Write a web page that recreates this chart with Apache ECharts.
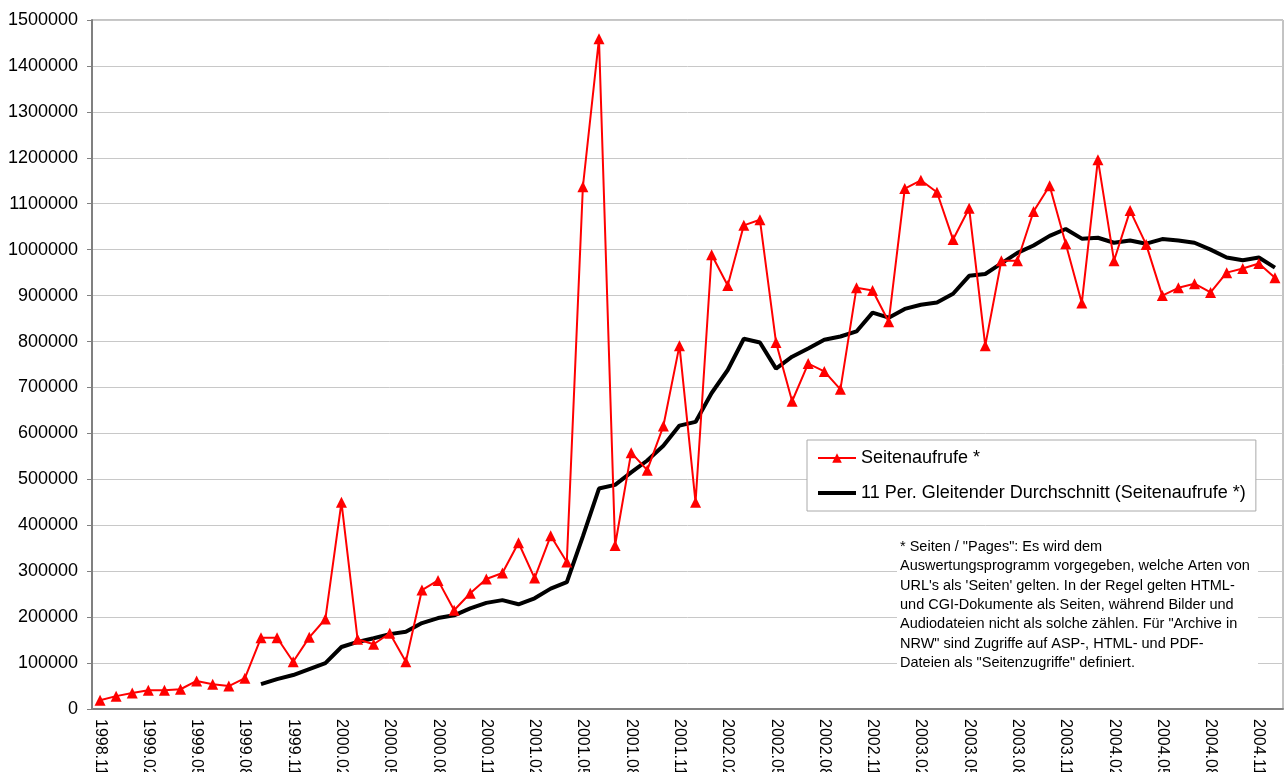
<!DOCTYPE html>
<html>
<head>
<meta charset="utf-8">
<script src="https://cdn.jsdelivr.net/npm/echarts@6/dist/echarts.min.js"></script>
<style>
  html, body { margin: 0; padding: 0; background: #fff; }
  #chart { width: 1284px; height: 772px; }
</style>
</head>
<body>
<div id="chart"></div>
<script>
var months = [
    '1998.11', '1998.12',
    '1999.01', '1999.02', '1999.03', '1999.04', '1999.05', '1999.06', '1999.07', '1999.08', '1999.09', '1999.10', '1999.11', '1999.12',
    '2000.01', '2000.02', '2000.03', '2000.04', '2000.05', '2000.06', '2000.07', '2000.08', '2000.09', '2000.10', '2000.11', '2000.12',
    '2001.01', '2001.02', '2001.03', '2001.04', '2001.05', '2001.06', '2001.07', '2001.08', '2001.09', '2001.10', '2001.11', '2001.12',
    '2002.01', '2002.02', '2002.03', '2002.04', '2002.05', '2002.06', '2002.07', '2002.08', '2002.09', '2002.10', '2002.11', '2002.12',
    '2003.01', '2003.02', '2003.03', '2003.04', '2003.05', '2003.06', '2003.07', '2003.08', '2003.09', '2003.10', '2003.11', '2003.12',
    '2004.01', '2004.02', '2004.03', '2004.04', '2004.05', '2004.06', '2004.07', '2004.08', '2004.09', '2004.10', '2004.11', '2004.12'
];

// Seitenaufrufe pro Monat
var seitenaufrufe = [
    19000, 28000,
    35000, 41000, 41000, 43000, 61000, 54000, 50000, 67000, 155000, 155000, 103000, 156000,
    196000, 450000, 152000, 141000, 165000, 103000, 259000, 280000, 215000, 252000, 283000, 296000,
    362000, 285000, 377000, 320000, 1137000, 1459000, 356000, 558000, 520000, 616000, 791000, 450000,
    989000, 922000, 1053000, 1065000, 798000, 670000, 752000, 735000, 696000, 917000, 911000, 843000,
    1133000, 1151000, 1125000, 1022000, 1090000, 791000, 976000, 976000, 1083000, 1139000, 1013000, 884000,
    1196000, 976000, 1085000, 1011000, 900000, 917000, 926000, 907000, 950000, 959000, 970000, 939000
];

// 11 Per. gleitender Durchschnitt (erst ab dem 11. Monat)
var gleitend = [
    null, null,
    null, null, null, null, null, null, null, null, 54000, 65000, 74000, 87000,
    100000, 135000, 146000, 154000, 163000, 168000, 187000, 198000, 204000, 219000, 231000, 237000,
    228000, 241000, 262000, 276000, 376000, 480000, 488000, 515000, 541000, 573000, 617000, 625000,
    688000, 738000, 806000, 798000, 741000, 767000, 785000, 804000, 811000, 822000, 863000, 852000,
    871000, 880000, 885000, 904000, 943000, 947000, 970000, 993000, 1009000, 1030000, 1045000, 1024000,
    1026000, 1015000, 1020000, 1013000, 1023000, 1020000, 1015000, 1000000, 983000, 977000, 983000, 961000
];

var hinweis = [
    '* Seiten / "Pages": Es wird dem',
    'Auswertungsprogramm vorgegeben, welche Arten von',
    'URL\'s als \'Seiten\' gelten. In der Regel gelten HTML-',
    'und CGI-Dokumente als Seiten, während Bilder und',
    'Audiodateien nicht als solche zählen. Für "Archive in',
    'NRW" sind Zugriffe auf ASP-, HTML- und PDF-',
    'Dateien als "Seitenzugriffe" definiert.'
];

var font = '"Liberation Sans", Arial, Helvetica, sans-serif';
var myChart = echarts.init(document.getElementById('chart'));

var option = {
    backgroundColor: '#fff',
    animation: false,
    textStyle: { fontFamily: font },
    grid: {
        left: 92,
        top: 20,
        right: 1,
        bottom: 63,
        show: true,
        borderColor: '#888',
        borderWidth: 1,
        containLabel: false,
        outerBoundsMode: 'none'
    },
    legend: {
        orient: 'vertical',
        left: 807,
        top: 440,
        z: 20,
        backgroundColor: '#fff',
        borderColor: '#aaa',
        borderWidth: 1,
        padding: [7, 10, 7, 10],
        itemGap: 13,
        itemWidth: 38,
        itemHeight: 12,
        textStyle: { fontSize: 18, color: '#000', fontFamily: font, lineHeight: 22 },
        data: [
            { name: 'Seitenaufrufe *' },
            { name: '11 Per. Gleitender Durchschnitt (Seitenaufrufe *)', icon: 'path://M0,0L38,0L38,4L0,4Z' }
        ]
    },
    xAxis: {
        type: 'category',
        data: months,
        boundaryGap: true,
        axisLine: { lineStyle: { color: '#808080', width: 2 } },
        axisTick: { interval: 0, length: 6, lineStyle: { color: '#808080' } },
        axisLabel: {
            interval: 2,
            rotate: -90,
            margin: 10,
            fontSize: 16,
            color: '#000',
            fontFamily: font
        }
    },
    yAxis: {
        type: 'value',
        min: 0,
        max: 1500000,
        interval: 100000,
        axisLine: { show: true, lineStyle: { color: '#808080', width: 2 } },
        axisTick: { show: true, length: 5, lineStyle: { color: '#808080' } },
        axisLabel: {
            fontSize: 18, color: '#000', margin: 14, fontFamily: font,
            formatter: function (v) { return String(v); }
        },
        splitLine: { lineStyle: { color: '#c8c8c8', width: 1 } }
    },
    graphic: [{
        type: 'rect',
        z: 100,
        shape: { x: 897, y: 530, width: 361, height: 138 },
        style: { fill: '#fff' }
    }, {
        type: 'text',
        z: 101,
        x: 900,
        y: 537,
        style: {
            text: hinweis.join('\n'),
            fontSize: 14.5,
            lineHeight: 19.4,
            fill: '#000',
            fontFamily: font
        }
    }],
    series: [
        {
            name: 'Seitenaufrufe *',
            type: 'line',
            data: seitenaufrufe,
            symbol: 'triangle',
            symbolSize: 11,
            showAllSymbol: true,
            lineStyle: { color: '#ff0000', width: 2 },
            itemStyle: { color: '#ff0000' },
            z: 3
        },
        {
            name: '11 Per. Gleitender Durchschnitt (Seitenaufrufe *)',
            type: 'line',
            data: gleitend,
            symbol: 'none',
            lineStyle: { color: '#000', width: 4 },
            itemStyle: { color: '#000' },
            z: 2
        }
    ]
};
myChart.setOption(option);
window.addEventListener('resize', function () {
    myChart.resize();
});
</script>
</body>
</html>
